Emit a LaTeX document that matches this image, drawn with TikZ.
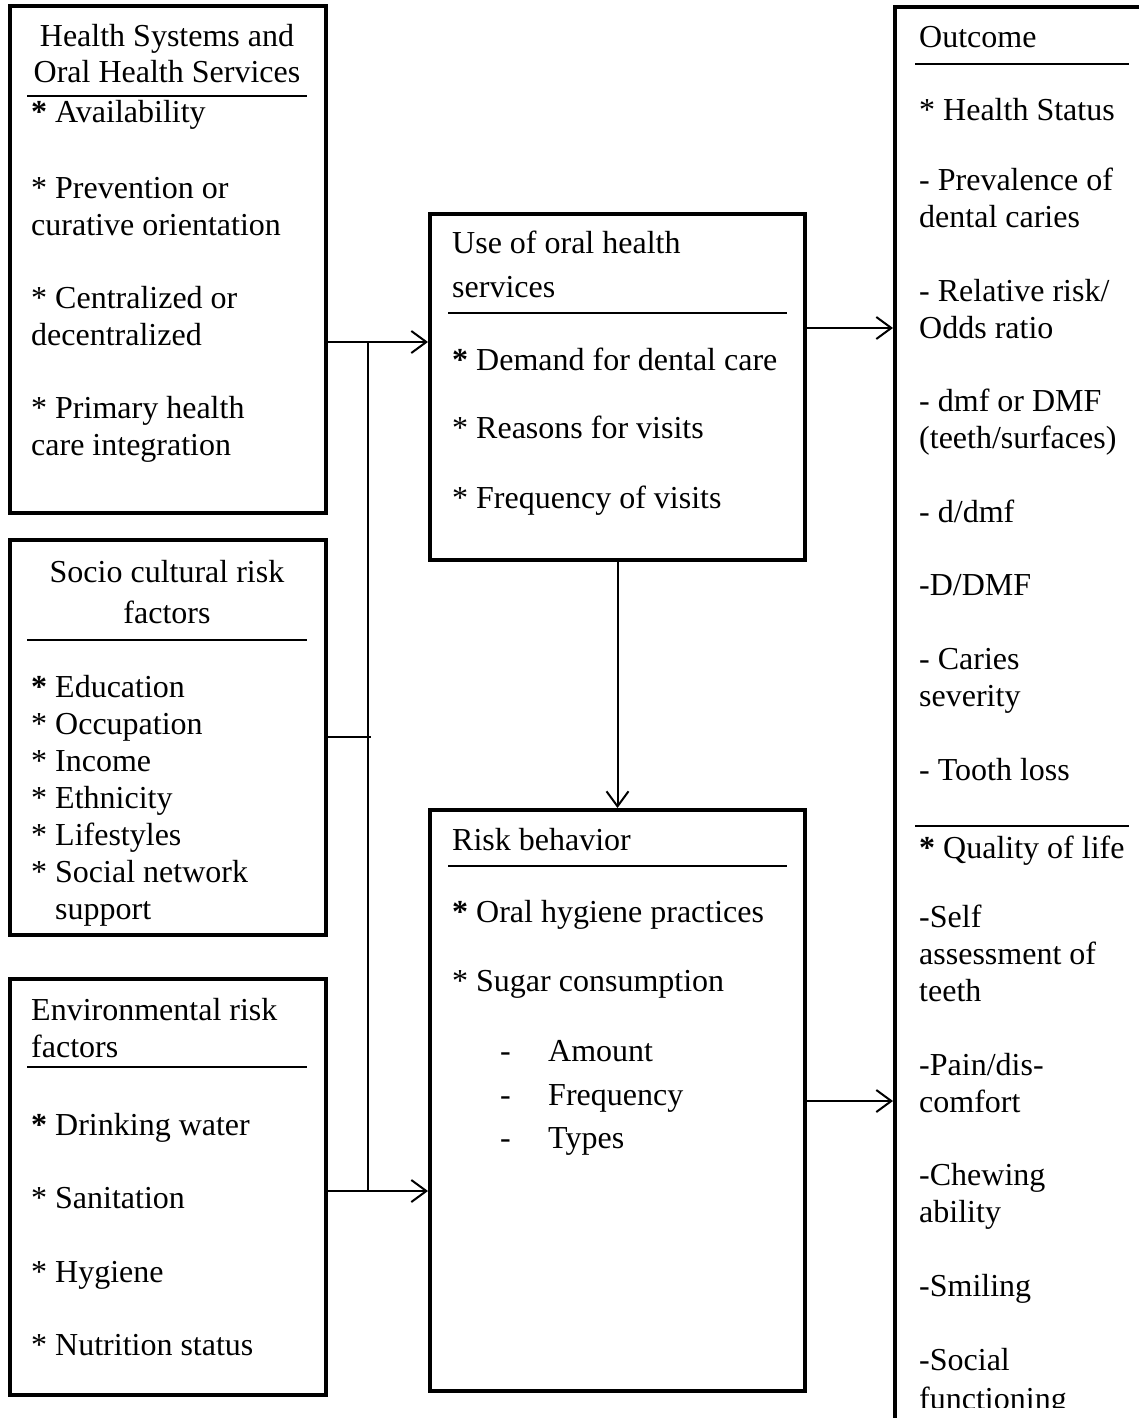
\documentclass[tikz,border=0pt]{standalone}
\usepackage{fontspec}
\setmainfont{Liberation Serif}
\usetikzlibrary{arrows.meta,fit}
\begin{document}
\begin{tikzpicture}[x=1pt,y=-1pt,
  box/.style={draw, line width=4pt, inner sep=0pt},
  rule/.style={line width=1.5pt},
  conn/.style={line width=2pt},
  arr/.style={conn, -{Straight Barb[length=15pt,width=22pt]}},
  t/.style={inner sep=0pt, anchor=base west, font=\fontsize{32}{37}\selectfont},
  tc/.style={t, anchor=base}]
\useasboundingbox (0,0) rectangle (1139,1418);
\clip (0,0) rectangle (1139,1418);
\fill[white] (0,0) rectangle (1139,1418);
% boxes
\node[box, fit={(9.5,6.5) (325.5,512.5)}] (b1) {};
\node[box, fit={(9.5,540) (325.5,935)}] (b2) {};
\node[box, fit={(9.5,979) (325.5,1395)}] (b3) {};
\node[box, fit={(430,214) (805,560)}] (b4) {};
\node[box, fit={(430,810) (805,1391)}] (b5) {};
\node[box, fit={(895,7) (1170,1450)}] (b6) {};
% underlines
\draw[rule] (27,96) -- (307,96);
\draw[rule] (27,640) -- (307,640);
\draw[rule] (27,1067) -- (307,1067);
\draw[rule] (448,313) -- (787,313);
\draw[rule] (448,866) -- (787,866);
\draw[rule] (915,64) -- (1129,64);
\draw[rule] (915,826) -- (1129,826);
% box 1
\node[tc] (h1) at (167,47) {Health Systems and};
\node[tc] (h2) at (167,83) {Oral Health Services};
\node[t] (h3) at (31,123) {\textbf{*} Availability};
\node[t] (h4) at (31,198) {* Prevention or};
\node[t] (h5) at (31,235) {curative orientation};
\node[t] (h6) at (31,308) {* Centralized or};
\node[t] (h7) at (31,345) {decentralized};
\node[t] (h8) at (31,418) {* Primary health};
\node[t] (h9) at (31,455) {care integration};
% box 2
\node[tc] (s1) at (167,582) {Socio cultural risk};
\node[tc] (s2) at (167,623) {factors};
\node[t] (s3) at (31,697) {\textbf{*} Education};
\node[t] (s4) at (31,734) {* Occupation};
\node[t] (s5) at (31,771) {* Income};
\node[t] (s6) at (31,808) {* Ethnicity};
\node[t] (s7) at (31,845) {* Lifestyles};
\node[t] (s8) at (31,882) {* Social network};
\node[t] (s9) at (55,919) {support};
% box 3
\node[t] (e1) at (31,1020) {Environmental risk};
\node[t] (e2) at (31,1057) {factors};
\node[t] (e3) at (31,1135) {\textbf{*} Drinking water};
\node[t] (e4) at (31,1208) {* Sanitation};
\node[t] (e5) at (31,1282) {* Hygiene};
\node[t] (e6) at (31,1355) {* Nutrition status};
% box 4
\node[t] (u1) at (452,253) {Use of oral health};
\node[t] (u2) at (452,297) {services};
\node[t] (u3) at (452,370) {\textbf{*} Demand for dental care};
\node[t] (u4) at (452,438) {* Reasons for visits};
\node[t] (u5) at (452,508) {* Frequency of visits};
% box 5
\node[t] (r1) at (452,850) {Risk behavior};
\node[t] (r2) at (452,922) {\textbf{*} Oral hygiene practices};
\node[t] (r3) at (452,991) {* Sugar consumption};
\node[t] (r4) at (500,1061) {-};
\node[t] (r5) at (548,1061) {Amount};
\node[t] (r6) at (500,1105) {-};
\node[t] (r7) at (548,1105) {Frequency};
\node[t] (r8) at (500,1148) {-};
\node[t] (r9) at (548,1148) {Types};
% box 6
\node[t] (o1) at (919,48) {Outcome};
\node[t] (o2) at (919,121) {* Health Status};
\node[t] (o3) at (919,190) {- Prevalence of};
\node[t] (o4) at (919,227) {dental caries};
\node[t] (o5) at (919,301) {- Relative risk/};
\node[t] (o6) at (919,338) {Odds ratio};
\node[t] (o7) at (919,411) {- dmf or DMF};
\node[t] (o8) at (919,448) {(teeth/surfaces)};
\node[t] (o9) at (919,522) {- d/dmf};
\node[t] (o10) at (919,595) {-D/DMF};
\node[t] (o11) at (919,669) {- Caries};
\node[t] (o12) at (919,706) {severity};
\node[t] (o13) at (919,780) {- Tooth loss};
\node[t] (o14) at (919,858) {\textbf{*} Quality of life};
\node[t] (o15) at (919,927) {-Self};
\node[t] (o16) at (919,964) {assessment of};
\node[t] (o17) at (919,1001) {teeth};
\node[t] (o18) at (919,1075) {-Pain/dis-};
\node[t] (o19) at (919,1112) {comfort};
\node[t] (o20) at (919,1185) {-Chewing};
\node[t] (o21) at (919,1222) {ability};
\node[t] (o22) at (919,1296) {-Smiling};
\node[t] (o23) at (919,1370) {-Social};
\begin{scope}
\clip (900,1380) rectangle (1139,1407);
\node[t] (o24) at (919,1409) {functioning};
\end{scope}
% connectors
\coordinate (j1) at (368,342);
\coordinate (j2) at (371,737);
\coordinate (j3) at (368,1191);
\coordinate (k1) at (850,328);
\coordinate (k2) at (850,1101);
\draw[arr] (b1.east |- j1) -- (b4.west |- j1);
\draw[conn] (j1) -- (j3);
\draw[conn] (b2.east |- j2) -- (j2);
\draw[arr] (b3.east |- j3) -- (b5.west |- j3);
\draw[arr] (b4.south) -- (b5.north);
\draw[arr] (b4.east |- k1) -- (b6.west |- k1);
\draw[arr] (b5.east |- k2) -- (b6.west |- k2);
\end{tikzpicture}
\end{document}
